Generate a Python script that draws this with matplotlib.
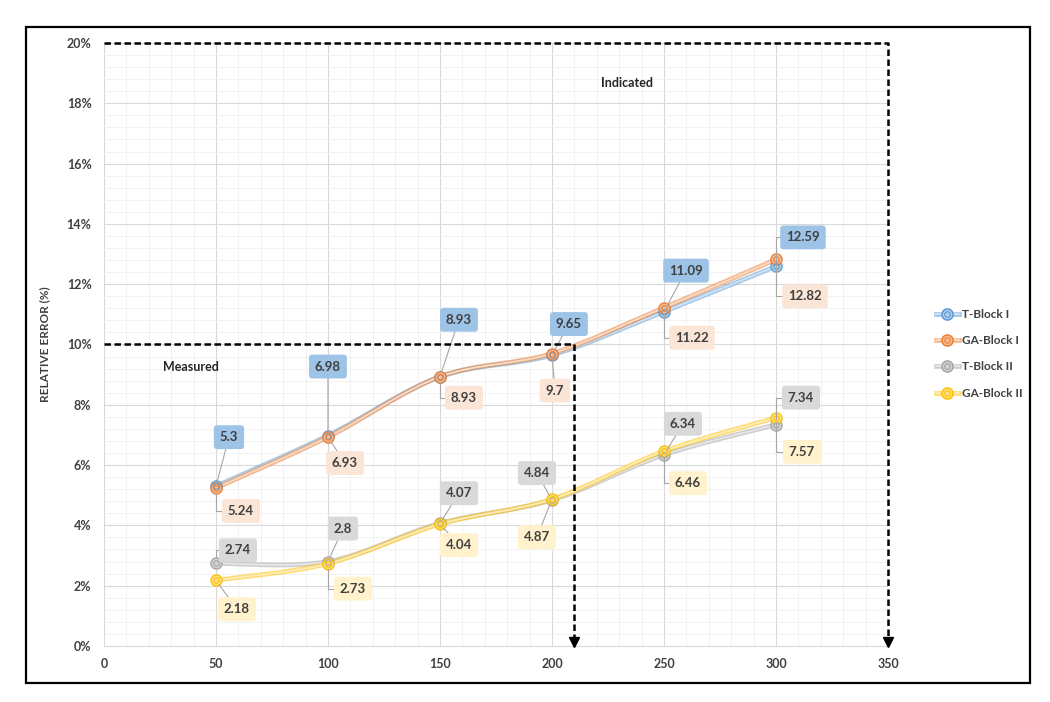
import numpy as np
import matplotlib
matplotlib.use('Agg')
import matplotlib.pyplot as plt
from matplotlib.path import Path
from matplotlib.patches import PathPatch, Rectangle
from matplotlib.lines import Line2D
from matplotlib.ticker import FuncFormatter, MultipleLocator
from matplotlib.colors import to_rgb

plt.rcParams['font.family'] = ['Lato', 'DejaVu Sans']

# datos
x_vals = [50, 100, 150, 200, 250, 300]
t_block_1 = [5.3, 6.98, 8.93, 9.65, 11.09, 12.59]
ga_block_1 = [5.24, 6.93, 8.93, 9.7, 11.22, 12.82]
t_block_2 = [2.74, 2.8, 4.07, 4.84, 6.34, 7.34]
ga_block_2 = [2.18, 2.73, 4.04, 4.87, 6.46, 7.57]
series_names = ['T-Block I', 'GA-Block I', 'T-Block II', 'GA-Block II']

measured_lim = (210, 10)    # (x, y) limite medido
indicated_lim = (350, 20)   # (x, y) limite indicado

# estilos
line_colors = ['#5B9BD5', '#ED7D31', '#A5A5A5', '#FFC000']
box_colors = ['#9DC3E6', '#FBE5D6', '#D9D9D9', '#FFF2CC']

# desplazamiento de etiquetas en pixeles y si la linea guia hace codo
label_offsets = [
    [(13, 49), (0, 69), (19, 57), (17, 31), (22, 41), (27, 29)],
    [(25, -23), (17, -26), (24, -21), (3, -37), (28, -30), (29, -37)],
    [(22, 13), (15, 33), (19, 30), (-15, 27), (19, 31), (25, 27)],
    [(21, -29), (25, -25), (19, -21), (-15, -38), (24, -32), (26, -34)],
]
label_elbow = [
    [False, False, False, False, False, True],
    [True, False, True, False, True, True],
    [True, False, False, False, False, True],
    [False, True, False, False, True, True],
]


def lighten(c, f):
    r, g, b = to_rgb(c)
    return (r + (1 - r) * f, g + (1 - g) * f, b + (1 - b) * f)


def smooth_path(xs, ys):
    # curva suave tipo Excel (Catmull-Rom pasada a Bezier)
    pts = np.column_stack([xs, ys]).astype(float)
    n = len(pts)
    verts = [pts[0]]
    codes = [Path.MOVETO]
    for i in range(n - 1):
        p0 = pts[i - 1] if i > 0 else pts[i]
        p1 = pts[i]
        p2 = pts[i + 1]
        p3 = pts[i + 2] if i + 2 < n else pts[i + 1]
        verts += [p1 + (p2 - p0) / 6, p2 - (p3 - p1) / 6, p2]
        codes += [Path.CURVE4] * 3
    return Path(verts, codes)


fig = plt.figure(figsize=(10.5, 7.02), dpi=100)
ax = fig.add_axes([0.0990, 0.0798, 0.7467, 0.8590])

ax.set_xlim(0, 350)
ax.set_ylim(0, 20)
ax.xaxis.set_major_locator(MultipleLocator(50))
ax.xaxis.set_minor_locator(MultipleLocator(10))
ax.yaxis.set_major_locator(MultipleLocator(2))
ax.yaxis.set_minor_locator(MultipleLocator(0.4))
ax.yaxis.set_major_formatter(FuncFormatter(lambda v, p: '%d%%' % round(v)))
ax.grid(which='major', color='#D9D9D9', lw=0.8)
ax.grid(which='minor', color='#F0F0F0', lw=0.6)
ax.set_axisbelow(True)
for s in ['top', 'right', 'left']:
    ax.spines[s].set_visible(False)
ax.spines['bottom'].set_color('#D9D9D9')
ax.tick_params(which='both', length=0, labelsize=9, labelcolor='#404040', pad=9)
for t in ax.get_xticklabels() + ax.get_yticklabels():
    t.set_fontweight('bold')
ax.set_ylabel('RELATIVE ERROR (%)', fontsize=8.5, fontweight='bold', color='#404040', labelpad=12)

all_series = [t_block_1, ga_block_1, t_block_2, ga_block_2]
handles = []
for j in range(4):
    ys = all_series[j]
    col = line_colors[j]
    path = smooth_path(x_vals, ys)
    ax.add_patch(PathPatch(path, fill=False, ec=col, lw=3.4, alpha=0.55, zorder=3))
    ax.add_patch(PathPatch(path, fill=False, ec=lighten(col, 0.72), lw=1.3, zorder=3))
    ax.plot(x_vals, ys, 'o', ms=8, mfc=lighten(col, 0.5), mec=col, mew=1.1, alpha=0.9, zorder=4)
    ax.plot(x_vals, ys, 'o', ms=4, mfc='none', mec=col, mew=0.8, zorder=5)
    h1 = Line2D([], [], color=col, lw=3.4, alpha=0.55)
    h2 = Line2D([], [], color=lighten(col, 0.72), lw=1.3)
    h3 = Line2D([], [], ls='none', marker='o', ms=8, mfc=lighten(col, 0.5), mec=col, mew=1.1)
    h4 = Line2D([], [], ls='none', marker='o', ms=4, mfc='none', mec=col, mew=0.8)
    handles.append((h1, h2, h3, h4))

    for i in range(len(x_vals)):
        dx, dy = label_offsets[j][i]
        if label_elbow[j][i]:
            cs = 'angle,angleA=0,angleB=90,rad=0'
        else:
            cs = 'arc3'
        ax.annotate(('%.2f' % ys[i]).rstrip('0').rstrip('.'), xy=(x_vals[i], ys[i]),
                    xytext=(dx, dy), textcoords='offset pixels',
                    ha='center', va='center', fontsize=9.5, fontweight='bold', color='#404040',
                    bbox=dict(boxstyle='round,pad=0.45,rounding_size=0.25', fc=box_colors[j], ec='none'),
                    arrowprops=dict(arrowstyle='-', color='#A6A6A6', lw=0.8,
                                    shrinkA=0, shrinkB=4, connectionstyle=cs),
                    zorder=6)

# lineas de limite
dash = (0, (2.6, 1.4))
ax.plot([0, measured_lim[0], measured_lim[0]], [measured_lim[1], measured_lim[1], 0.3],
        color='black', lw=1.8, ls=dash, clip_on=False, zorder=7)
ax.plot([0, indicated_lim[0], indicated_lim[0]], [indicated_lim[1], indicated_lim[1], 0.3],
        color='black', lw=1.8, ls=dash, clip_on=False, zorder=7)
ax.plot([measured_lim[0], indicated_lim[0]], [0.14, 0.14], 'v', color='black', ms=6.5,
        clip_on=False, zorder=7)
ax.text(39, 9.25, 'Measured', ha='center', va='center', fontsize=9, fontweight='bold', color='#262626')
ax.text(233.5, 18.67, 'Indicated', ha='center', va='center', fontsize=9, fontweight='bold', color='#262626')

leg = fig.legend(handles, series_names, loc='center left', bbox_to_anchor=(0.881, 0.496),
                 frameon=False, fontsize=8.5, handlelength=2.0, labelspacing=1.3,
                 handletextpad=0.2)
for t in leg.get_texts():
    t.set_fontweight('bold')
    t.set_color('#404040')

fig.patches.append(Rectangle((0.0248, 0.027), 0.956, 0.9345, transform=fig.transFigure,
                             fill=False, lw=1.6, ec='black'))

fig.savefig('out.png', dpi=100)
